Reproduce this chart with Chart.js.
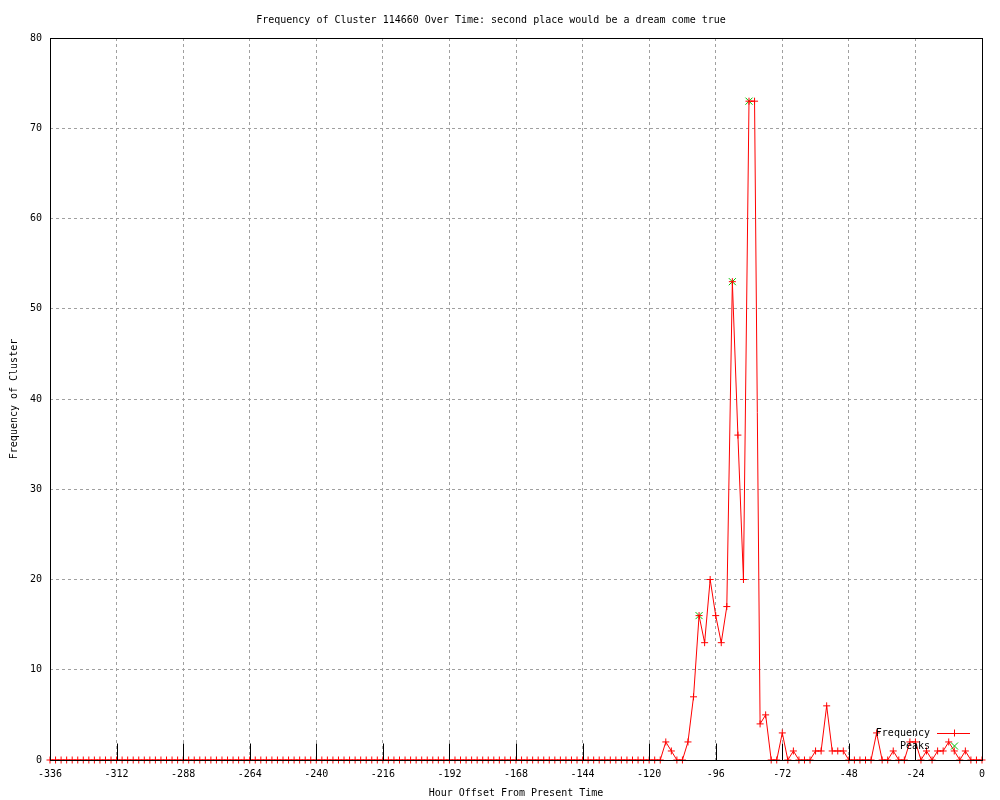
<!DOCTYPE html>
<html><head><meta charset="utf-8">
<script src="https://cdn.jsdelivr.net/npm/chart.js@4/dist/chart.umd.min.js"></script>
<style>html,body{margin:0;padding:0;background:#fff}#wrap{width:1000px;height:800px}canvas{display:block}</style>
</head><body><div id="wrap"><canvas id="c" width="1000" height="800"></canvas></div>
<script>
const chartTitle = "Frequency of Cluster 114660 Over Time: second place would be a dream come true";
const xAxisTitle = "Hour Offset From Present Time";
const yAxisTitle = "Frequency of Cluster";
const seriesNames = ["Frequency", "Peaks"];

const hours = [
  -336,-334,-332,-330,-328,-326,-324,-322,-320,-318,-316,-314,
  -312,-310,-308,-306,-304,-302,-300,-298,-296,-294,-292,-290,
  -288,-286,-284,-282,-280,-278,-276,-274,-272,-270,-268,-266,
  -264,-262,-260,-258,-256,-254,-252,-250,-248,-246,-244,-242,
  -240,-238,-236,-234,-232,-230,-228,-226,-224,-222,-220,-218,
  -216,-214,-212,-210,-208,-206,-204,-202,-200,-198,-196,-194,
  -192,-190,-188,-186,-184,-182,-180,-178,-176,-174,-172,-170,
  -168,-166,-164,-162,-160,-158,-156,-154,-152,-150,-148,-146,
  -144,-142,-140,-138,-136,-134,-132,-130,-128,-126,-124,-122,
  -120,-118,-116,-114,-112,-110,-108,-106,-104,-102,-100,-98,
  -96,-94,-92,-90,-88,-86,-84,-82,-80,-78,-76,-74,
  -72,-70,-68,-66,-64,-62,-60,-58,-56,-54,-52,-50,
  -48,-46,-44,-42,-40,-38,-36,-34,-32,-30,-28,-26,
  -24,-22,-20,-18,-16,-14,-12,-10,-8,-6,-4,-2,
  0
];
const frequency = [
  0,0,0,0,0,0,0,0,0,0,0,0,
  0,0,0,0,0,0,0,0,0,0,0,0,
  0,0,0,0,0,0,0,0,0,0,0,0,
  0,0,0,0,0,0,0,0,0,0,0,0,
  0,0,0,0,0,0,0,0,0,0,0,0,
  0,0,0,0,0,0,0,0,0,0,0,0,
  0,0,0,0,0,0,0,0,0,0,0,0,
  0,0,0,0,0,0,0,0,0,0,0,0,
  0,0,0,0,0,0,0,0,0,0,0,0,
  0,0,0,2,1,0,0,2,7,16,13,20,
  16,13,17,53,36,20,73,73,4,5,0,0,
  3,0,1,0,0,0,1,1,6,1,1,1,
  0,0,0,0,0,3,0,0,1,0,0,2,
  2,0,1,0,1,1,2,1,0,1,0,0,
  0
];
const peakHours = [-102, -90, -84];
const peakValues = [16, 53, 73];
const xTicks = [-336,-312,-288,-264,-240,-216,-192,-168,-144,-120,-96,-72,-48,-24,0];
const yTicks = [0,10,20,30,40,50,60,70,80];

const FONT = "'DejaVu Sans Mono', 'Liberation Mono', monospace";
const RED = '#ff0000';
const GREEN = '#00c000';

const freqData = hours.map((h, i) => ({x: h, y: frequency[i]}));
const peakData = peakHours.map((h, i) => ({x: h, y: peakValues[i]}));

const gnuplotFrame = {
  id: 'gnuplotFrame',
  afterDatasetsDraw(chart) {
    const {ctx, chartArea: a, scales} = chart;
    const L = Math.round(a.left) + 0.5, R = Math.round(a.right) + 0.5;
    const T = Math.round(a.top) + 0.5, B = Math.round(a.bottom) + 0.5;
    ctx.save();
    ctx.strokeStyle = '#000';
    ctx.lineWidth = 1;
    ctx.setLineDash([]);
    ctx.beginPath();
    const xl = 17;
    xTicks.forEach(v => {
      const px = Math.round(scales.x.getPixelForValue(v)) + 0.5;
      ctx.moveTo(px, B); ctx.lineTo(px, B - xl);
    });
    ctx.stroke();
    ctx.strokeRect(L, T, R - L, B - T);
    ctx.restore();
  },
  afterDraw(chart) {
    const {ctx, chartArea: a} = chart;
    ctx.save();
    ctx.font = '10px ' + FONT;
    ctx.fillStyle = '#000';
    ctx.textAlign = 'right';
    ctx.textBaseline = 'middle';
    const tx = a.right - 52;
    const y1 = a.bottom - 27, y2 = a.bottom - 14;
    ctx.fillText(seriesNames[0], tx, y1);
    ctx.fillText(seriesNames[1], tx, y2);
    const sx0 = a.right - 45, sx1 = a.right - 12, mid = Math.round((sx0 + sx1) / 2) + 0.5;
    ctx.strokeStyle = RED; ctx.lineWidth = 1;
    ctx.beginPath();
    ctx.moveTo(sx0, Math.round(y1) + 0.5); ctx.lineTo(sx1, Math.round(y1) + 0.5);
    ctx.moveTo(mid, y1 - 3.5); ctx.lineTo(mid, y1 + 3.5);
    ctx.stroke();
    ctx.strokeStyle = GREEN;
    ctx.beginPath();
    ctx.moveTo(mid - 3.5, y2 - 3.5); ctx.lineTo(mid + 3.5, y2 + 3.5);
    ctx.moveTo(mid + 3.5, y2 - 3.5); ctx.lineTo(mid - 3.5, y2 + 3.5);
    ctx.stroke();
    ctx.restore();
  }
};

const gridColor = (lo, hi) => (c) => (c.tick && (c.tick.value === lo || c.tick.value === hi)) ? 'rgba(0,0,0,0)' : '#a0a0a0';

new Chart(document.getElementById('c'), {
  type: 'line',
  data: {
    datasets: [
      {
        label: seriesNames[1], data: peakData, showLine: false,
        pointStyle: 'crossRot', pointRadius: 5, pointBorderColor: GREEN, pointBorderWidth: 1,
        borderColor: GREEN, backgroundColor: GREEN, clip: false, order: 1
      },
      {
        label: seriesNames[0], data: freqData, borderColor: RED, borderWidth: 1,
        pointStyle: 'cross', pointRadius: 3.5, pointBorderColor: RED, pointBorderWidth: 1,
        backgroundColor: RED, tension: 0, clip: false, order: 0
      }
    ]
  },
  options: {
    responsive: false, animation: false, devicePixelRatio: 1, events: [],
    layout: {padding: {left: 0, right: 18, top: 0, bottom: 0}},
    plugins: {
      legend: {display: false}, tooltip: {enabled: false},
      title: {display: true, text: chartTitle, color: '#000',
        font: {family: FONT, size: 10, weight: 'normal'}, padding: {top: 14, bottom: 12}}
    },
    scales: {
      x: {
        type: 'linear', min: -336, max: 0,
        afterBuildTicks: s => { s.ticks = xTicks.map(v => ({value: v})); },
        afterFit: s => { s.height = 40; },
        ticks: {color: '#000', font: {family: FONT, size: 10}, padding: 8, maxRotation: 0, autoSkip: false,
          callback: v => String(v)},
        grid: {color: gridColor(-336, 0), drawTicks: false, lineWidth: 1},
        border: {display: false, dash: [3, 3]},
        title: {display: true, text: xAxisTitle, color: '#000', font: {family: FONT, size: 10}, padding: {top: 0, bottom: 1}}
      },
      y: {
        type: 'linear', min: 0, max: 80,
        afterBuildTicks: s => { s.ticks = yTicks.map(v => ({value: v})); },
        afterFit: s => { s.width = 50; },
        ticks: {color: '#000', font: {family: FONT, size: 10}, padding: 8, autoSkip: false,
          callback: v => String(v)},
        grid: {color: gridColor(0, 80), drawTicks: false, lineWidth: 1},
        border: {display: false, dash: [3, 3]},
        title: {display: true, text: yAxisTitle, color: '#000', font: {family: FONT, size: 10}, padding: {top: 8, bottom: 0}}
      }
    }
  },
  plugins: [gnuplotFrame]
});
</script>
</body></html>
